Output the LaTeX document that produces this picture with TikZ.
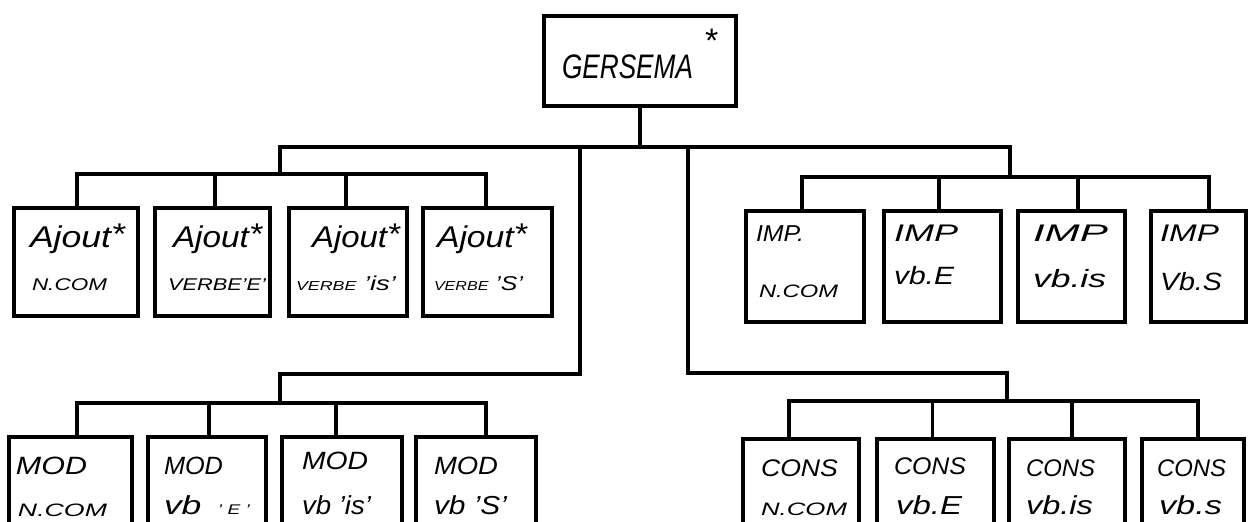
\documentclass[tikz,border=0pt]{standalone}
\usepackage{fontspec}
\usepackage{graphicx}
\setmainfont{Liberation Sans}
\newcommand\hw[3]{\resizebox{#1pt}{\height}{\fontsize{#2}{#2}\selectfont\itshape #3}}
\newcommand\sm[1]{{\fontsize{13}{13}\selectfont\itshape #1}}
\newcommand\st{\raisebox{3pt}{*}}
\begin{document}
\begin{tikzpicture}[x=1pt,y=-1pt,
  box/.style={draw, line width=3.5pt, inner sep=0pt, rectangle},
  txt/.style={anchor=base west, inner sep=0pt, outer sep=0pt},
  conn/.style={line width=3.5pt, line cap=rect}]
\useasboundingbox (0,0) rectangle (1248,522);
\fill[white] (0,0) rectangle (1248,522);
\clip (0,0) rectangle (1248,522);

% root
\node[box, minimum width=192pt, minimum height=90pt] (g) at (640,61) {};
\node[txt] (tg) at (562,78) {\hw{131}{34}{GERSEMA}};
\node[txt] (tgs) at (705,52) {\fontsize{34}{34}\selectfont *};

% Ajout row
\node[box, minimum width=124pt, minimum height=108pt] (a1) at (76,262) {};
\node[box, minimum width=115pt, minimum height=108pt] (a2) at (212.5,262) {};
\node[box, minimum width=118pt, minimum height=108pt] (a3) at (348,262) {};
\node[box, minimum width=129pt, minimum height=108pt] (a4) at (487.5,262) {};
\node[txt] (ta1) at (30,247) {\hw{95}{30}{Ajout\st}};
\node[txt] (ta2) at (173,247) {\hw{89}{30}{Ajout\st}};
\node[txt] (ta3) at (312,247) {\hw{88}{30}{Ajout\st}};
\node[txt] (ta4) at (437,247) {\hw{90}{30}{Ajout\st}};
\node[txt] (ua1) at (32,290) {\hw{75}{17}{N.COM}};
\node[txt] (ua2) at (168,290) {\hw{98}{17}{VERBE'E'}};
\node[txt] (ua3) at (296,290) {\hw{100}{20}{\sm{VERBE}~'is'}};
\node[txt] (ua4) at (434,290) {\hw{89}{20}{\sm{VERBE}~'S'}};

% IMP row
\node[box, minimum width=118pt, minimum height=111pt] (i1) at (805,266.5) {};
\node[box, minimum width=117pt, minimum height=111pt] (i2) at (942.5,266.5) {};
\node[box, minimum width=107pt, minimum height=111pt] (i3) at (1071.5,266.5) {};
\node[box, minimum width=95pt, minimum height=111pt] (i4) at (1198.5,266.5) {};
\node[txt] (ti1) at (756,241) {\hw{48}{23}{IMP.}};
\node[txt] (ti2) at (894,241) {\hw{64}{24}{IMP}};
\node[txt] (ti3) at (1033,241) {\hw{75}{24}{IMP}};
\node[txt] (ti4) at (1160,241) {\hw{59}{24}{IMP}};
\node[txt] (ui1) at (759,297) {\hw{79}{18}{N.COM}};
\node[txt] (ui2) at (894,284) {\hw{60}{25}{vb.E}};
\node[txt] (ui3) at (1033,287) {\hw{73}{25}{vb.is}};
\node[txt] (ui4) at (1160,290) {\hw{62}{25}{Vb.S}};

% MOD row
\node[box, minimum width=123pt, minimum height=150pt] (m1) at (70.5,512) {};
\node[box, minimum width=118pt, minimum height=150pt] (m2) at (207,512) {};
\node[box, minimum width=120pt, minimum height=150pt] (m3) at (342,512) {};
\node[box, minimum width=120pt, minimum height=150pt] (m4) at (476,512) {};
\node[txt] (tm1) at (16,474) {\hw{71}{25}{MOD}};
\node[txt] (tm2) at (164,474) {\hw{59}{25}{MOD}};
\node[txt] (tm3) at (302,469) {\hw{66}{25}{MOD}};
\node[txt] (tm4) at (434,474) {\hw{64}{25}{MOD}};
\node[txt] (um1) at (18,516) {\hw{89}{18}{N.COM}};
\node[txt] (um2) at (164,514) {\hw{86}{26}{vb\hspace{12pt}{\fontsize{14}{14}\selectfont '\hspace{4pt}E\hspace{4pt}'}}};
\node[txt] (um3) at (302,514) {\hw{69}{26}{vb 'is'}};
\node[txt] (um4) at (434,514) {\hw{73}{26}{vb 'S'}};

% CONS row
\node[box, minimum width=116pt, minimum height=150pt] (c1) at (801,514) {};
\node[box, minimum width=117pt, minimum height=150pt] (c2) at (935.5,514) {};
\node[box, minimum width=116pt, minimum height=150pt] (c3) at (1067,514) {};
\node[box, minimum width=102pt, minimum height=150pt] (c4) at (1193,514) {};
\node[txt] (tc1) at (761,476) {\hw{77}{24}{CONS}};
\node[txt] (tc2) at (894,474) {\hw{72}{24}{CONS}};
\node[txt] (tc3) at (1026,476) {\hw{69}{24}{CONS}};
\node[txt] (tc4) at (1157,476) {\hw{69}{24}{CONS}};
\node[txt] (uc1) at (761,515) {\hw{86}{18}{N.COM}};
\node[txt] (uc2) at (896,514) {\hw{66}{26}{vb.E}};
\node[txt] (uc3) at (1026,514) {\hw{67}{26}{vb.is}};
\node[txt] (uc4) at (1159,514) {\hw{63}{26}{vb.s}};

% connectors
\coordinate (tl) at (280,147);
\coordinate (tr) at (1010,147);
\coordinate (ab) at (280,174);
\coordinate (ib) at (1010,177);
\coordinate (ml) at (580,147);
\coordinate (mk) at (280,374);
\coordinate (mb) at (280,403);
\coordinate (cl) at (688,147);
\coordinate (ck) at (1007,373);
\coordinate (cb) at (1007,401);

\draw[conn] (g.south) -- (g.south |- tl);
\draw[conn] (tl) -- (tr);
\draw[conn] (tl) -- (ab);
\draw[conn] (tr) -- (ib);
\draw[conn] (ml) |- (mk) -- (mb);
\draw[conn] (cl) |- (ck) -- (cb);

\foreach \n/\s/\b in {a1/1/ab,a2/2.5/ab,a3/-2/ab,a4/-1.5/ab,
                     i1/-3/ib,i2/-3.5/ib,i3/6.5/ib,i4/10.5/ib,
                     m1/6.5/mb,m2/2/mb,m3/-6/mb,m4/10/mb,
                     c1/-12/cb,c2/-3/cb,c3/5/cb,c4/5/cb}{
  \path ([xshift=\s]\n.north) coordinate (st\n);
  \draw[conn] (st\n |- \b) -- (st\n);
}
\draw[conn] (sta1 |- ab) -- (sta4 |- ab);
\draw[conn] (sti1 |- ib) -- (sti4 |- ib);
\draw[conn] (stm1 |- mb) -- (stm4 |- mb);
\draw[conn] (stc1 |- cb) -- (stc4 |- cb);
\end{tikzpicture}
\end{document}
